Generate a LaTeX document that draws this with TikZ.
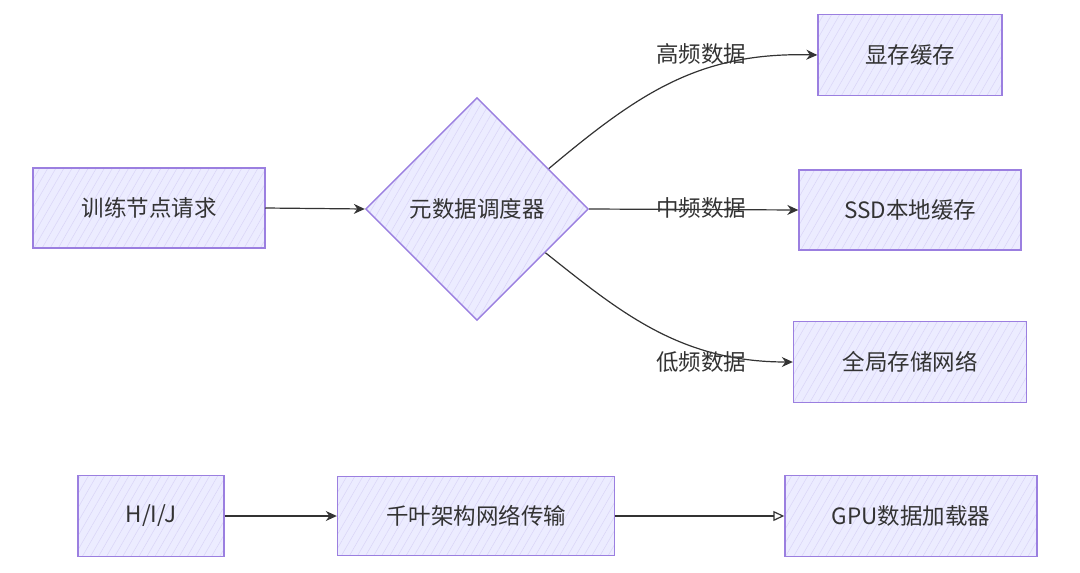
\documentclass[tikz,border=0pt]{standalone}
\usepackage{fontspec}
\setmainfont{Noto Sans CJK SC}
\usetikzlibrary{shapes.geometric,arrows.meta,patterns.meta,calc}
\definecolor{boxfill}{HTML}{ECECFF}
\definecolor{boxline}{HTML}{9B7FE0}
\definecolor{hatch}{HTML}{D9D4F7}
\definecolor{edgecol}{HTML}{333333}
\tikzset{
  every node/.style={font=\fontsize{22.5}{26}\selectfont, text=edgecol},
  box/.style={draw=boxline, line width=1.4pt, preaction={fill=boxfill},
    pattern={Lines[angle=60,distance=7pt,line width=0.5pt]}, pattern color=hatch,
    inner sep=0pt, rectangle},
  dia/.style={draw=boxline, line width=1.4pt, preaction={fill=boxfill},
    pattern={Lines[angle=60,distance=7pt,line width=0.5pt]}, pattern color=hatch,
    diamond, inner sep=0pt, minimum width=223pt, minimum height=223pt},
  edge/.style={draw=edgecol, line width=1.2pt, -{Stealth[length=11pt,width=10pt]}},
  oedge/.style={draw=edgecol, line width=1.2pt, -{Triangle[open,length=11pt,width=10pt]}},
  lbl/.style={fill=none, inner sep=1pt}
}
\begin{document}
\begin{tikzpicture}[x=1pt,y=-1pt]
\useasboundingbox (0,0) rectangle (1080,573);
\node[box, minimum width=232pt, minimum height=80pt] (a) at (149,208) {训练节点请求};
\node[dia] (d) at (477,209) {元数据调度器};
\node[box, minimum width=184pt, minimum height=81pt] (m1) at (910,55) {显存缓存};
\node[box, minimum width=222pt, minimum height=80pt] (m2) at (910,210) {SSD本地缓存};
\node[box, minimum width=233pt, minimum height=81pt] (m3) at (910,362) {全局存储网络};
\node[box, minimum width=146pt, minimum height=81pt] (h) at (151,516) {H/I/J};
\node[box, minimum width=277pt, minimum height=79pt] (q) at (476,516) {千叶架构网络传输};
\node[box, minimum width=252pt, minimum height=81pt] (g) at (911,516) {GPU数据加载器};

\coordinate (dne) at ($(d.east)!0.36!(d.north)$);
\coordinate (dse) at ($(d.east)!0.39!(d.south)$);

\draw[edge] (a.east) -- (d.west);
\draw[edge] (dne) .. controls (640,92) and (700,52) .. (m1.west);
\node[lbl] (l1) at (701,54) {高频数据};
\draw[edge] (d.east) -- (m2.west);
\node[lbl] (l2) at (701,208) {中频数据};
\draw[edge] (dse) .. controls (620,312) and (680,362) .. (m3.west);
\node[lbl] (l3) at (701,362) {低频数据};
\draw[edge] (h.east) -- (q.west);
\draw[oedge] (q.east) -- (g.west);
\end{tikzpicture}
\end{document}
